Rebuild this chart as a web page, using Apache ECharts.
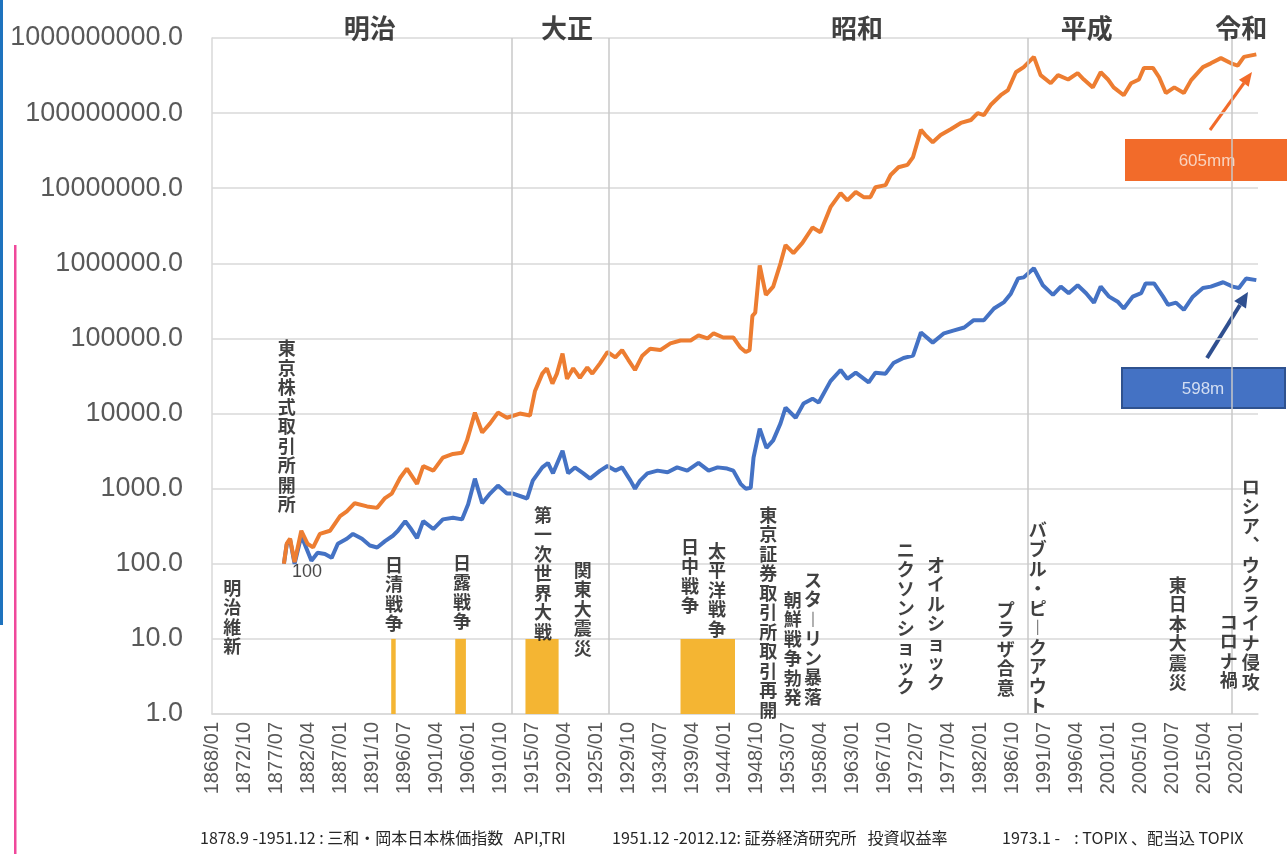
<!DOCTYPE html>
<html><head><meta charset="utf-8">
<script src="https://cdn.jsdelivr.net/npm/echarts/dist/echarts.min.js"></script>
<style>html,body{margin:0;padding:0;background:#fff}#c{width:1287px;height:854px}</style>
</head><body><div id="c"></div><script>
// ---- categories: monthly 1868/01 .. 2023/03 ----
const startYear = 1868, endYear = 2023, endMonth = 3;
const months = [];
for (let y = startYear; y <= endYear; y++) {
  for (let m = 1; m <= 12; m++) {
    if (y === endYear && m > endMonth) break;
    months.push(y + '/' + String(m).padStart(2, '0'));
  }
}

// ---- total return index (orange) ----
const triDates = ['1878/09','1879/02','1879/08','1880/04','1881/04','1882/03','1883/01','1884/01','1885/07','1887/01','1888/01','1889/03','1891/01','1892/07','1893/09','1894/09','1895/12','1896/12','1898/06','1899/05','1900/11','1902/04','1903/10','1905/02','1905/11','1907/01','1908/02','1909/04','1910/06','1911/10','1913/09','1915/03','1915/12','1917/01','1917/09','1918/07','1919/03','1920/01','1920/09','1921/08','1922/08','1923/09','1924/06','1925/08','1926/09','1927/11','1928/11','1929/10','1930/10','1931/11','1933/01','1934/07','1936/01','1937/07','1939/01','1940/03','1941/07','1942/06','1943/11','1945/05','1946/06','1947/03','1947/10','1948/03','1948/08','1949/04','1950/03','1951/04','1952/05','1953/02','1954/04','1955/08','1957/02','1958/04','1959/10','1961/04','1962/04','1963/07','1964/09','1965/09','1966/06','1967/12','1968/09','1969/11','1971/03','1972/01','1973/03','1973/11','1974/12','1976/02','1977/08','1979/02','1980/08','1981/08','1982/07','1983/07','1985/01','1986/02','1987/04','1988/06','1989/12','1990/12','1992/06','1993/07','1995/01','1996/06','1997/05','1998/09','1999/11','2000/12','2001/10','2003/04','2004/05','2005/07','2006/04','2007/08','2008/07','2009/07','2010/10','2012/03','2013/04','2015/01','2016/03','2017/09','2019/03','2020/03','2021/02','2022/12'];
const triValues = [100,185,216,105,275,185,165,250,275,430,500,640,580,555,750,860,1400,1850,1160,2000,1740,2590,2900,3000,4400,10300,5600,7400,10300,8800,10000,9400,20000,34000,40000,25000,34000,63000,29000,40000,30000,41000,34000,47000,66000,56000,70000,52000,38000,59000,73000,70000,86000,94000,94000,110000,100000,117000,103000,103000,75000,66000,70000,200000,220000,940000,380000,490000,1000000,1750000,1370000,1870000,3000000,2600000,5600000,8600000,6900000,8900000,7600000,7600000,10300000,11000000,15000000,19000000,20500000,26000000,60000000,51000000,41000000,51000000,61000000,74000000,81000000,100000000,94000000,128000000,173000000,203000000,350000000,410000000,560000000,320000000,250000000,320000000,280000000,340000000,280000000,220000000,350000000,280000000,220000000,173000000,250000000,280000000,400000000,400000000,300000000,185000000,220000000,185000000,275000000,410000000,460000000,540000000,460000000,430000000,560000000,605000000];

// ---- price index (blue) ----
const apiDates = ['1878/09','1879/02','1879/08','1880/04','1881/04','1882/10','1883/09','1884/10','1885/10','1886/09','1888/01','1888/12','1890/04','1891/06','1892/07','1893/09','1894/11','1895/08','1896/09','1897/06','1898/06','1899/05','1900/11','1902/04','1903/10','1905/02','1906/01','1907/01','1908/02','1909/04','1910/06','1911/10','1912/09','1914/10','1915/08','1917/01','1917/11','1918/08','1920/01','1920/11','1921/11','1923/02','1924/02','1925/08','1926/09','1927/11','1928/11','1930/02','1930/10','1931/07','1932/08','1934/02','1935/08','1937/01','1938/07','1940/03','1941/09','1943/01','1944/06','1945/05','1946/06','1947/03','1947/12','1948/05','1949/04','1950/04','1951/04','1952/05','1953/02','1954/08','1955/10','1957/02','1958/01','1959/10','1961/04','1962/04','1963/07','1965/06','1966/06','1967/12','1969/02','1970/08','1972/01','1973/03','1974/12','1976/08','1978/02','1979/08','1981/01','1982/07','1984/01','1985/07','1986/07','1987/08','1988/06','1989/12','1991/04','1992/10','1993/12','1995/02','1996/06','1997/09','1998/11','1999/11','2001/02','2002/06','2003/04','2004/08','2005/11','2006/07','2007/10','2009/02','2009/11','2011/01','2012/03','2013/07','2015/01','2016/03','2018/01','2019/06','2020/05','2021/06','2022/12'];
const apiValues = [100,180,210,100,236,110,140,135,120,185,215,250,215,175,165,200,236,275,370,300,220,370,290,390,410,390,620,1360,640,860,1100,860,860,740,1280,1920,2200,1600,3200,1600,1920,1600,1360,1740,2000,1740,1920,1280,1000,1280,1600,1740,1650,1920,1740,2200,1740,1920,1850,1740,1160,1000,1030,2590,6300,3500,4400,7400,12000,8800,13600,15800,14000,27000,38000,29000,35000,26000,35000,34000,47000,55000,59000,120000,88000,117000,128000,140000,175000,175000,250000,305000,395000,630000,650000,860000,510000,380000,490000,400000,510000,400000,300000,490000,360000,305000,250000,360000,400000,540000,540000,360000,280000,300000,240000,360000,470000,490000,560000,490000,470000,630000,598000];

// ---- era boundaries, era names, war periods ----
const eraLineDates = ['1912/07', '1926/12', '1989/01', '2019/05'];
const eraNames = ['明治', '大正', '昭和', '平成', '令和'];
const eraLabelDates = ['1891/06', '1920/09', '1963/09', '1997/10', '2020/09'];
const eraLabelValue = 1.36e9;
const warStarts = ['1894/08', '1904/02', '1914/07', '1937/07'];
const warEnds   = ['1895/04', '1905/09', '1919/06', '1945/08'];

// ---- event annotations (vertical text): x date, top value ----
const eventTexts = ['明治維新','東京株式取引所開所','日清戦争','日露戦争','第一次世界大戦','関東大震災','日中戦争','太平洋戦争','東京証券取引所取引再開','朝鮮戦争勃発','スターリン暴落','ニクソンショック','オイルショック','プラザ合意','バブル・ピークアウト','東日本大震災','コロナ禍','ロシア、ウクライナ侵攻'];
const eventDates = ['1871/01','1879/02','1895/01','1905/02','1917/02','1923/01','1938/12','1942/12','1950/07','1954/03','1957/03','1970/12','1975/06','1985/10','1990/07','2011/04','2018/11','2022/02'];
const eventTops  = [64.6, 100000, 131, 139, 605, 112, 227, 200, 605, 44.7, 82.4, 207, 131, 32.9, 382, 70.8, 22.7, 1429];

const startLabel = { text: '100', date: '1882/02', value: 78 };
const footerParts = [
  '1878.9 -1951.12 : 三和・岡本日本株価指数   API,TRI',
  '1951.12 -2012.12: 証券経済研究所   投資収益率',
  '1973.1 -    : TOPIX 、配当込 TOPIX'
];
const footerX = [200, 612, 1002];
const triNote = '605mm', apiNote = '598m';

function vert(s) {
  return Array.from(s).map(c => c === 'ー' ? '︱' : (c === '、' ? '︑' : c)).join('\n');
}
const pair = (ds, vs) => ds.map((d, i) => [d, vs[i]]);

const chart = echarts.init(document.getElementById('c'), null, { renderer: 'canvas' });
const CJK = '"Noto Sans CJK JP", "Noto Sans", sans-serif';
const LAT = '"Liberation Sans", Arial, sans-serif';

chart.setOption({
  animation: false,
  backgroundColor: '#ffffff',
  grid: { left: 212, right: 29, top: 38, bottom: 140, containLabel: false },
  xAxis: {
    type: 'category', data: months, boundaryGap: false,
    axisLine: { show: true, lineStyle: { color: '#D9D9D9', width: 1.5 } },
    axisTick: { show: false },
    splitLine: { show: false },
    axisLabel: { interval: 56, rotate: 90, fontSize: 20, color: '#595959', margin: 8, fontFamily: LAT }
  },
  yAxis: {
    type: 'log', logBase: 10, min: 1, max: 1e9,
    axisLine: { show: true, lineStyle: { color: '#D9D9D9', width: 1.5 } },
    axisTick: { show: false },
    splitLine: { show: true, lineStyle: { color: '#D9D9D9', width: 1.5 } },
    axisLabel: { formatter: v => Number(v).toFixed(1), fontSize: 27, color: '#595959', margin: 29, fontFamily: LAT }
  },
  series: [
    {
      name: 'API', type: 'line', data: pair(apiDates, apiValues), symbol: 'none',
      lineStyle: { color: '#4472C4', width: 4 }, itemStyle: { color: '#4472C4' }, z: 3,
      markLine: {
        silent: true, symbol: ['none', 'none'], label: { show: false },
        lineStyle: { color: '#C8C8C8', width: 1.5, type: 'solid' },
        data: eraLineDates.map(d => ({ xAxis: d }))
      },
      markArea: {
        silent: true, itemStyle: { color: '#F4B533' },
        data: warStarts.map((s, i) => [{ xAxis: s, yAxis: 1 }, { xAxis: warEnds[i], yAxis: 10 }])
      }
    },
    {
      name: 'TRI', type: 'line', data: pair(triDates, triValues), symbol: 'none',
      lineStyle: { color: '#ED7D31', width: 4 }, itemStyle: { color: '#ED7D31' }, z: 4
    },
    {
      name: 'events', type: 'scatter', symbolSize: 0, clip: false, silent: true, z: 5,
      data: eventTexts.map((t, i) => ({ value: [eventDates[i], eventTops[i]], label: { formatter: vert(t) } })),
      label: { show: true, position: 'bottom', distance: 0, align: 'center', fontSize: 18, lineHeight: 19.5, fontWeight: 'bold', color: '#111', fontFamily: CJK }
    },
    {
      name: 'eras', type: 'scatter', symbolSize: 0, clip: false, silent: true, z: 5,
      data: eraNames.map((t, i) => ({ value: [eraLabelDates[i], eraLabelValue], label: { formatter: t } })),
      label: { show: true, position: 'inside', fontSize: 26, fontWeight: 'bold', color: '#111', fontFamily: CJK }
    },
    {
      name: 'start', type: 'scatter', symbolSize: 0, clip: false, silent: true, z: 5,
      data: [{ value: [startLabel.date, startLabel.value], label: { formatter: startLabel.text } }],
      label: { show: true, position: 'inside', fontSize: 18, color: '#1a1a1a', fontFamily: LAT }
    }
  ],
  graphic: [
    { type: 'rect', shape: { x: 0, y: 0, width: 3, height: 625 }, style: { fill: '#1E73BE' } },
    { type: 'rect', shape: { x: 14, y: 245, width: 2.5, height: 609 }, style: { fill: '#F0489B' } },
    { type: 'rect', shape: { x: 1125, y: 139, width: 170, height: 42 }, style: { fill: '#F26B2A' } },
    { type: 'text', x: 1207, y: 161, style: { text: triNote, fill: '#F9D3BE', fontSize: 17, align: 'center', verticalAlign: 'middle', fontFamily: LAT } },
    { type: 'rect', shape: { x: 1122, y: 368, width: 163, height: 40 }, style: { fill: '#4472C4', stroke: '#2F528F', lineWidth: 2 } },
    { type: 'text', x: 1203, y: 389, style: { text: apiNote, fill: '#D3DEF2', fontSize: 17, align: 'center', verticalAlign: 'middle', fontFamily: LAT } },
    { type: 'line', shape: { x1: 1210, y1: 130, x2: 1244, y2: 83 }, style: { stroke: '#F26B2A', lineWidth: 3 } },
    { type: 'polygon', shape: { points: [[1252, 72], [1248.7, 86.8], [1238.9, 79.8]] }, style: { fill: '#F26B2A' } },
    { type: 'line', shape: { x1: 1207, y1: 358, x2: 1240, y2: 305 }, style: { stroke: '#2F4F8F', lineWidth: 4 } },
    { type: 'polygon', shape: { points: [[1248, 292], [1246, 308.4], [1234.2, 301]] }, style: { fill: '#2F4F8F' } }
  ].concat(footerParts.map((t, i) => ({
    type: 'text', x: footerX[i], y: 838,
    style: { text: t, fill: '#262626', fontSize: 16, verticalAlign: 'middle', fontFamily: CJK }
  })))
});
</script></body></html>
